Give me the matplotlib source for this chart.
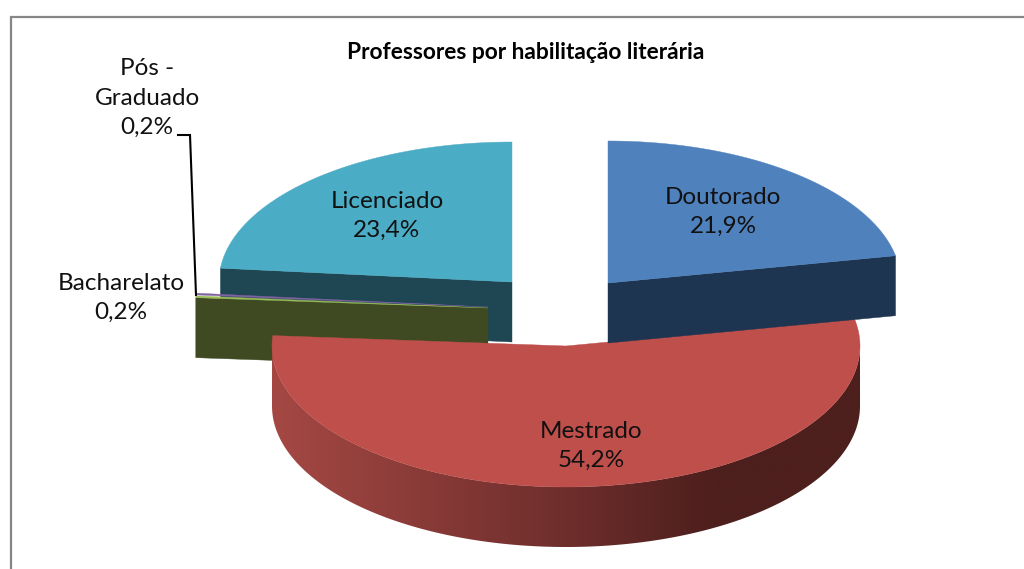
import numpy as np
import matplotlib
matplotlib.use("Agg")
import matplotlib.pyplot as plt
from matplotlib.patches import Polygon
from matplotlib.colors import LinearSegmentedColormap

plt.rcParams['font.family'] = ['Lato', 'DejaVu Sans']

title = "Professores por habilitação literária"
categories = ["Doutorado", "Mestrado", "Bacharelato", "Pós -\nGraduado", "Licenciado"]
values = [21.9, 54.2, 0.2, 0.2, 23.4]

# layout (pixel space), per slice
centers = [(608, 283), (566, 346), (488, 308), (488, 307), (512, 282)]
radii = [(293, 142), (294, 141), (293, 140), (293, 140), (293, 140)]
depth = 60
top_colors = ["#4F81BD", "#BE4F4B", "#9BBB59", "#8064A2", "#4BACC6"]
wall_colors = ["#1D3550", "#A04642", "#3F4A22", "#3A2D4A", "#1F4653"]
label_pos = [(723, 212), (591, 446), (121, 298), (147, 98), (387, 216)]

fig = plt.figure(figsize=(10.24, 5.69), dpi=100, facecolor="white")
ax = fig.add_axes([0, 0, 1, 1])
ax.set_xlim(0, 1024)
ax.set_ylim(569, 0)
ax.axis("off")

# slice angles derive from the values, clockwise from 12 o'clock
total = sum(values)
edges = 90 - np.concatenate([[0], np.cumsum(values)]) / total * 360


def rim(i, a0, a1, n=200):
    t = np.radians(np.linspace(a0, a1, n))
    cx, cy = centers[i]
    rx, ry = radii[i]
    return np.column_stack([cx + rx * np.cos(t), cy - ry * np.sin(t)])


def top_face(i, z):
    pts = rim(i, edges[i], edges[i + 1])
    poly = np.vstack([[centers[i]], pts])
    ax.add_patch(Polygon(poly, closed=True, fc=top_colors[i], ec=top_colors[i], lw=0.3, zorder=z + 0.2))


def cut_face(i, angle, z):
    end = rim(i, angle, angle, 1)[0]
    c = np.array(centers[i], float)
    poly = [end, c, c + [0, depth], end + [0, depth]]
    ax.add_patch(Polygon(poly, closed=True, fc=wall_colors[i], ec=wall_colors[i], lw=0.3, zorder=z))


# Licenciado (back left)
cut_face(4, edges[4], 1)
top_face(4, 1)
# Pós-Graduado and Bacharelato
top_face(3, 2)
cut_face(2, edges[2], 2)
top_face(2, 2.5)
# Mestrado, with a shaded outer wall
m = 1
arc = rim(m, 180, 360, 300)
wall = np.vstack([arc, arc[::-1] + [0, depth]])
patch = Polygon(wall, closed=True, fc="none", ec="none", zorder=3)
ax.add_patch(patch)
shade = LinearSegmentedColormap.from_list(
    "shade", [(0, "#A54844"), (0.5, "#6E2E2C"), (0.75, "#4D1F1D"), (1, "#4D1F1D")])
grad = ax.imshow(np.linspace(0, 1, 256)[None, :], cmap=shade, aspect="auto",
                 extent=(272, 860, 569, 300), zorder=3, interpolation="bilinear")
grad.set_clip_path(patch)
ax.set_xlim(0, 1024)
ax.set_ylim(569, 0)
top_face(m, 3)
# Doutorado (front right, overlaps Mestrado)
cut_face(0, edges[1], 4)
top_face(0, 4)

# leader line for Pós-Graduado
ax.plot([178, 190, 196], [135, 135, 295], color="black", lw=1.5, zorder=5, solid_joinstyle="miter")

# labels
for name, val, (x, y) in zip(categories, values, label_pos):
    txt = f"{name}\n{val:.1f}%".replace(".", ",")
    ax.text(x, y, txt, ha="center", va="center", fontsize=17.5, color="#111111",
            linespacing=1.48, zorder=6)

ax.text(526, 52, title, ha="center", va="center", fontsize=16.4, fontweight="bold", color="black", zorder=6)

# chart frame
ax.plot([11, 11, 1024], [569, 17, 17], color="#868686", lw=1.6, zorder=7, solid_joinstyle="miter")

fig.savefig("out.png", dpi=100, facecolor="white")
